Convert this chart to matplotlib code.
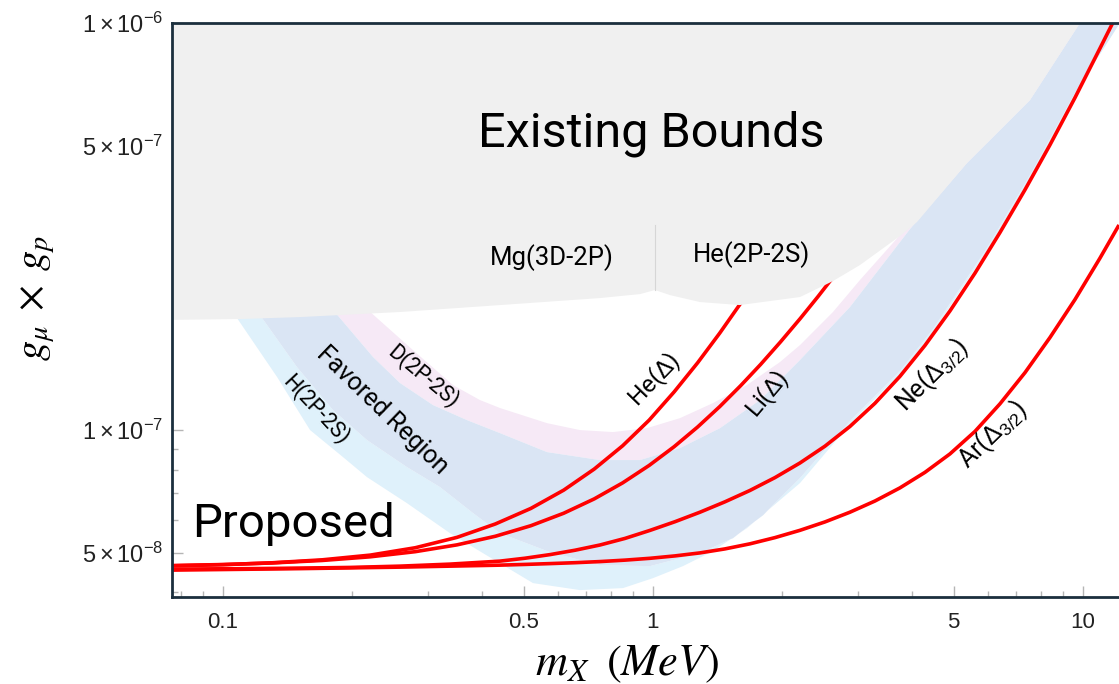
import matplotlib
matplotlib.use("Agg")
import matplotlib.pyplot as plt
from matplotlib.ticker import FixedLocator, NullFormatter

plt.rcParams['font.family'] = ['Roboto', 'DejaVu Sans']
plt.rcParams['mathtext.fontset'] = 'custom'
plt.rcParams['mathtext.rm'] = 'Liberation Sans'
plt.rcParams['mathtext.it'] = 'Liberation Sans:italic'
plt.rcParams['mathtext.bf'] = 'Liberation Sans:bold'

# ---- sensitivity curves (m_X in MeV, coupling product) ----
he_m = [0.0761, 0.1, 0.13, 0.17, 0.22, 0.28, 0.35, 0.43, 0.52, 0.62, 0.73, 0.85, 0.98, 1.12, 1.27, 1.43, 1.6]
he_g = [4.64e-8, 4.67e-8, 4.72e-8, 4.80e-8, 4.93e-8, 5.14e-8, 5.45e-8, 5.88e-8, 6.42e-8, 7.12e-8, 8.02e-8,
        9.15e-8, 1.058e-7, 1.241e-7, 1.463e-7, 1.731e-7, 2.05e-7]

li_m = [0.0761, 0.1, 0.13, 0.17, 0.22, 0.28, 0.35, 0.43, 0.52, 0.62, 0.73, 0.85, 0.98, 1.12, 1.27, 1.43,
        1.6, 1.78, 1.98, 2.2, 2.42, 2.62]
li_g = [4.647e-8, 4.674e-8, 4.716e-8, 4.783e-8, 4.883e-8, 5.027e-8, 5.224e-8, 5.485e-8, 5.822e-8, 6.248e-8,
        6.775e-8, 7.418e-8, 8.189e-8, 9.103e-8, 1.0175e-7, 1.1422e-7, 1.2862e-7, 1.45e-7, 1.647e-7, 1.879e-7,
        2.128e-7, 2.37e-7]

ne_m = [0.0761, 0.1156, 0.151, 0.1973, 0.258, 0.3372, 0.4406, 0.5039, 0.5761, 0.6587, 0.7527, 0.8607, 0.9841,
        1.125, 1.286, 1.470, 1.681, 1.922, 2.197, 2.512, 2.871, 3.283, 3.753, 4.291, 4.906, 5.610, 6.412,
        7.332, 8.381, 9.581, 10.95, 11.87]
ne_g = [4.555e-8, 4.567e-8, 4.58e-8, 4.598e-8, 4.632e-8, 4.685e-8, 4.765e-8, 4.844e-8, 4.944e-8, 5.068e-8,
        5.22e-8, 5.418e-8, 5.67e-8, 5.955e-8, 6.284e-8, 6.664e-8, 7.107e-8, 7.643e-8, 8.302e-8, 9.13e-8,
        1.0205e-7, 1.1636e-7, 1.355e-7, 1.614e-7, 1.962e-7, 2.43e-7, 3.057e-7, 3.894e-7, 5.019e-7, 6.551e-7,
        8.658e-7, 1.026e-6]

ar_m = [0.0761, 0.151, 0.258, 0.4406, 0.5039, 0.5761, 0.6587, 0.7527, 0.8607, 0.9841, 1.125, 1.286, 1.470,
        1.681, 1.922, 2.197, 2.512, 2.871, 3.283, 3.753, 4.291, 4.906, 5.610, 6.412, 7.332, 8.381, 9.581,
        10.95, 12.13]
ar_g = [4.529e-8, 4.567e-8, 4.606e-8, 4.658e-8, 4.677e-8, 4.699e-8, 4.723e-8, 4.753e-8, 4.792e-8, 4.842e-8,
        4.908e-8, 4.992e-8, 5.106e-8, 5.255e-8, 5.443e-8, 5.672e-8, 5.948e-8, 6.284e-8, 6.695e-8, 7.211e-8,
        7.873e-8, 8.739e-8, 9.927e-8, 1.16e-7, 1.384e-7, 1.688e-7, 2.092e-7, 2.643e-7, 3.19e-7]

# ---- band edges ----
h_edge_m = [0.0974, 0.1078, 0.1336, 0.1594, 0.1901, 0.2162, 0.2678, 0.3372, 0.4024, 0.526, 0.6764, 0.8516,
            1.0, 1.174, 1.379, 1.654, 1.974, 2.197, 2.871, 3.753, 4.479, 5.98, 7.651, 9.581, 12.52]
h_edge_g = [2.208e-7, 1.884e-7, 1.35e-7, 1.0e-7, 8.585e-8, 7.664e-8, 6.615e-8, 5.582e-8, 4.985e-8, 4.208e-8,
            4.045e-8, 4.091e-8, 4.328e-8, 4.632e-8, 5.042e-8, 5.742e-8, 6.73e-8, 7.408e-8, 1.034e-7, 1.373e-7,
            1.741e-7, 2.753e-7, 4.279e-7, 6.616e-7, 1.076e-6]

fav_low_m = [0.1107, 0.1233, 0.1486, 0.1802, 0.2162, 0.2678, 0.3196, 0.3815, 0.4406, 0.5761, 0.7527, 0.984,
             1.286, 1.535, 1.803, 2.197, 2.871, 3.753, 4.479, 5.98, 7.651, 9.581, 12.52]
fav_low_g = [2.208e-7, 1.884e-7, 1.428e-7, 1.12e-7, 9.45e-8, 8.111e-8, 7.244e-8, 6.253e-8, 5.582e-8, 5.013e-8,
             4.658e-8, 4.632e-8, 4.985e-8, 5.428e-8, 6.181e-8, 7.621e-8, 1.052e-7, 1.396e-7, 1.771e-7, 2.8e-7,
             4.352e-7, 6.73e-7, 1.046e-6]

fav_up_m = [0.1646, 0.1871, 0.2233, 0.258, 0.3078, 0.3693, 0.4406, 0.5669, 0.7527, 0.9328, 1.156, 1.432,
            1.774, 2.197, 2.871, 3.961, 5.373, 7.529, 9.84, 10.38]
fav_up_g = [2.208e-7, 1.884e-7, 1.512e-7, 1.305e-7, 1.152e-7, 1.058e-7, 9.831e-8, 8.829e-8, 8.439e-8, 8.439e-8,
            9.033e-8, 1.011e-7, 1.185e-7, 1.486e-7, 2.005e-7, 3.118e-7, 4.529e-7, 6.465e-7, 1.0e-6, 1.076e-6]

d_edge_m = [0.1932, 0.2282, 0.2766, 0.3427, 0.396, 0.4406, 0.5669, 0.6764, 0.8072, 0.9684, 1.156, 1.379,
            1.654, 1.974, 2.197, 2.622, 3.029, 3.753, 4.906, 6.412, 8.381, 8.84]
d_edge_g = [2.208e-7, 1.884e-7, 1.572e-7, 1.29e-7, 1.185e-7, 1.133e-7, 1.04e-7, 1.0e-7, 9.888e-8, 1.011e-7,
            1.07e-7, 1.165e-7, 1.29e-7, 1.469e-7, 1.617e-7, 1.95e-7, 2.336e-7, 3.013e-7, 4.352e-7, 6.465e-7,
            1.0e-6, 1.107e-6]

# ---- lower edge of the excluded region ----
bound_m = [0.07, 0.1095, 0.151, 0.258, 0.4406, 0.7527, 0.9328, 1.011, 1.095, 1.286, 1.593, 2.197, 2.622,
           3.029, 3.753, 4.111, 5.373, 7.529, 9.84, 10.38]
bound_g = [1.863e-7, 1.874e-7, 1.895e-7, 1.95e-7, 2.028e-7, 2.11e-7, 2.158e-7, 2.208e-7, 2.146e-7, 2.063e-7,
           2.028e-7, 2.122e-7, 2.323e-7, 2.543e-7, 2.996e-7, 3.243e-7, 4.529e-7, 6.465e-7, 1.0e-6, 1.076e-6]
split_m = 1.011
split_g = [2.208e-7, 3.19e-7]

x_ticks = [0.1, 0.5, 1, 5, 10]
x_labels = ['0.1', '0.5', '1', '5', '10']
y_ticks = [5e-8, 1e-7, 5e-7, 1e-6]
y_labels = [r'$5\times10^{-8}$', r'$1\times10^{-7}$', r'$5\times10^{-7}$', r'$1\times10^{-6}$']

fig = plt.figure(figsize=(11.19, 6.84), dpi=100)
ax = fig.add_axes([172 / 1119, 1 - 597 / 684, 947 / 1119, 574 / 684])
ax.set_xscale('log')
ax.set_yscale('log')
ax.set_xlim(0.0761, 12.13)
ax.set_ylim(3.89e-8, 1e-6)

c_h, c_fav, c_d, c_grey = '#dff1fb', '#dae5f4', '#f6e9f6', '#f0f0f0'
ax.fill(h_edge_m + fav_low_m[::-1], h_edge_g + fav_low_g[::-1], color=c_h, lw=0, zorder=1)
ax.fill(fav_up_m + d_edge_m[::-1], fav_up_g + d_edge_g[::-1], color=c_d, lw=0, zorder=1)
ax.fill(fav_low_m + fav_up_m[::-1], fav_low_g + fav_up_g[::-1], color=c_fav, lw=0, zorder=1.1)

red = '#ff0000'
for xm, yg in [(he_m, he_g), (li_m, li_g), (ne_m, ne_g), (ar_m, ar_g)]:
    ax.plot(xm, yg, color=red, lw=2.6, zorder=1.5, solid_capstyle='butt', solid_joinstyle='round')

ax.fill(bound_m + [bound_m[-1], bound_m[0]], bound_g + [2e-6, 2e-6], color=c_grey, lw=0, zorder=2)
ax.plot([split_m, split_m], split_g, color='#d6d6d6', lw=0.8, zorder=2.1)

# region labels
txt = dict(color='black', zorder=4)
ax.text(0.989, 4.96e-7, 'Existing Bounds', fontsize=35, ha='center', va='baseline', **txt)
ax.text(0.0847, 5.459e-8, 'Proposed', fontsize=34, ha='left', va='baseline', **txt)
ax.text(0.582, 2.543e-7, 'Mg(3D-2P)', fontsize=18.5, ha='center', va='baseline', **txt)
ax.text(1.699, 2.587e-7, 'He(2P-2S)', fontsize=18.5, ha='center', va='baseline', **txt)

rot = dict(ha='center', va='center', rotation_mode='anchor', **txt)
ax.text(1.011, 1.327e-7, r'He($\Delta$)', fontsize=17.5, rotation=46, **rot)
ax.text(1.851, 1.219e-7, r'Li($\Delta$)', fontsize=17.5, rotation=50, **rot)
ax.text(4.455, 1.365e-7, r'Ne($\Delta_{3/2}$)', fontsize=18, rotation=45, **rot)
ax.text(6.175, 9.72e-8, r'Ar($\Delta_{3/2}$)', fontsize=18, rotation=44, **rot)
ax.text(0.2343, 1.12e-7, 'Favored Region', fontsize=18, rotation=-44, **rot)
ax.text(0.2918, 1.357e-7, 'D(2P-2S)', fontsize=15.5, rotation=-40, **rot)
ax.text(0.1646, 1.12e-7, 'H(2P-2S)', fontsize=15.5, rotation=-47, **rot)

# axes styling
spine_c = '#1b2f3d'
for s in ['left', 'bottom', 'top']:
    ax.spines[s].set_color(spine_c)
    ax.spines[s].set_linewidth(2.0)
ax.spines['right'].set_visible(False)
for s in ax.spines.values():
    s.set_zorder(5)

ax.xaxis.set_major_locator(FixedLocator(x_ticks))
ax.set_xticklabels(x_labels)
ax.yaxis.set_major_locator(FixedLocator(y_ticks))
ax.set_yticklabels(y_labels)
ax.xaxis.set_minor_formatter(NullFormatter())
ax.yaxis.set_minor_formatter(NullFormatter())
ax.tick_params(which='both', direction='in', color='#b5b5b5', width=1.0, top=False, right=False)
ax.tick_params(which='major', length=8)
ax.tick_params(which='minor', length=4.5)
ax.tick_params(axis='x', which='major', pad=11, labelsize=16, labelcolor='#222222')
ax.tick_params(axis='y', which='major', pad=6, labelsize=17, labelcolor='#222222')
for lab in ax.get_xticklabels() + ax.get_yticklabels():
    lab.set_fontfamily(['Liberation Sans', 'DejaVu Sans'])

ax.set_xlabel(r'$m_X\;\;(MeV)$', fontsize=32, math_fontfamily='stix')
ax.xaxis.label.set_va('center')
ax.xaxis.set_label_coords(0.4805, -0.117)
ax.set_ylabel(r'$g_\mu\;\times\;g_p$', fontsize=29, math_fontfamily='stix')
ax.yaxis.label.set_va('center')
ax.yaxis.set_label_coords(-0.1415, 0.521)

fig.savefig('out.png', dpi=100)
